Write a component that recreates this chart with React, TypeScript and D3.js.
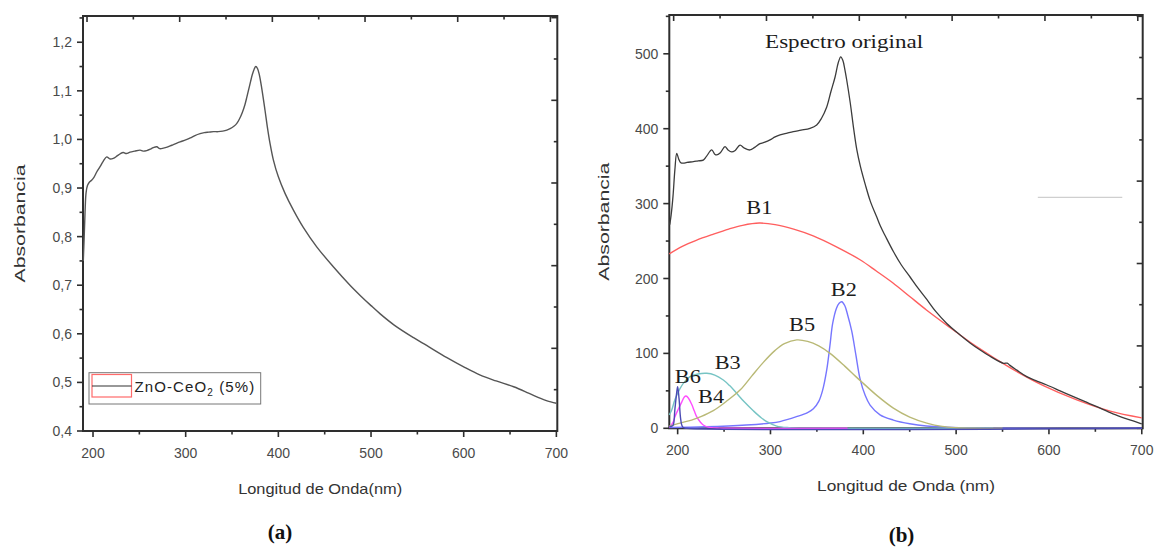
import React from "react";
import * as d3 from "d3";

type Pt = [number, number];

// ---------- Panel (a): ZnO-CeO2 (5%) absorbance spectrum ----------
const spectrumA: Pt[] = [
  [189.5, 0.75], [190.5, 0.8], [191.4, 0.85], [192.5, 0.89], [194, 0.905], [196, 0.912],
  [198.5, 0.916], [201, 0.922], [204, 0.933], [207.6, 0.944], [211, 0.955], [214.8, 0.964],
  [218, 0.96], [221.9, 0.961], [226, 0.966], [229, 0.97], [232.7, 0.973], [236, 0.971],
  [240, 0.974], [245, 0.976], [250.8, 0.978], [254, 0.976], [258, 0.977], [262, 0.98],
  [265, 0.983], [268.8, 0.985], [272, 0.981], [276, 0.982], [280, 0.984], [285, 0.988],
  [290, 0.992], [294, 0.995], [300, 0.999], [305, 1.003], [310, 1.008], [315.6, 1.012],
  [320, 1.014], [325, 1.015], [330, 1.016], [335, 1.016], [340, 1.017], [344.4, 1.019],
  [348, 1.022], [352, 1.027], [355.2, 1.033], [358, 1.042], [361, 1.055], [364, 1.072],
  [366, 1.087], [368, 1.103], [370, 1.119], [372, 1.134], [374, 1.145], [375.7, 1.15],
  [377.5, 1.146], [379.5, 1.133], [382, 1.106], [385.6, 1.06], [388.1, 1.026], [391, 0.992],
  [394.6, 0.958], [400, 0.923], [407.2, 0.889], [416.1, 0.855], [426.9, 0.819], [441.4, 0.779],
  [459.3, 0.738], [477.3, 0.7], [488.3, 0.679], [500, 0.658], [509.9, 0.641], [525, 0.618],
  [545.9, 0.592], [560, 0.576], [581.9, 0.551], [600, 0.532], [617.9, 0.515], [635, 0.503],
  [653.9, 0.491], [670, 0.478], [683, 0.467], [690, 0.462], [700, 0.457],
];

// ---------- Panel (b): original spectrum and fitted bands ----------
const originalB: Pt[] = [
  [191.5, 272], [193, 285], [195, 310], [197, 345], [199, 367], [201, 360], [203, 355],
  [206, 354], [210, 355], [216.9, 356], [222, 357], [227.6, 358], [231, 363], [236.7, 371.6],
  [240, 366], [242, 365], [246, 368], [251, 376], [254, 372], [258.2, 369], [262, 371],
  [267.2, 378], [272, 374], [278, 371.6], [283, 375], [288.7, 380], [294, 382], [299.5, 385],
  [305, 389], [310.3, 391.6], [318, 394], [324.6, 396], [333, 398], [342.6, 400.5],
  [349.8, 405], [355, 414], [360.6, 429], [365, 449], [369.6, 469], [373, 488], [375.7, 496],
  [378, 491], [380, 480], [382, 466], [386, 434], [389.6, 400], [393, 372], [396.8, 350],
  [402, 326], [407.6, 303], [414.5, 282], [418.4, 270], [424, 256], [432.4, 236],
  [441, 218], [450.4, 202], [459, 187], [468.4, 172], [478, 156], [489.9, 140],
  [504.3, 124.6], [515, 114], [525.9, 104.5], [538, 95], [551, 86.8], [555, 87], [558, 84],
  [565, 78], [576.1, 68.9], [587, 63], [597.7, 57.8], [612, 50], [626.3, 42.2], [639, 35.5],
  [651.6, 28.9], [664, 22], [676.7, 15.5], [688, 11], [698.2, 6.7], [700, 6],
];

const bandB1: Pt[] = [
  [191, 233], [205, 243], [220, 251], [238, 259], [255, 266], [270, 271], [288, 274],
  [305, 272], [325, 266], [346, 257], [370, 243], [396.5, 225], [414, 210], [432, 194],
  [450, 176], [468, 158], [494, 134], [522, 109], [558, 81], [594, 57], [630, 38],
  [666, 23], [700, 14],
];

const bandB2: Pt[] = [
  [191, 1], [230, 2], [274, 4.4], [300, 7], [310.3, 9], [328, 15.5], [340, 21], [346.2, 26],
  [352, 36], [356, 50], [360.6, 78], [364, 110], [367, 140], [371, 160], [374, 167],
  [376.8, 169], [380, 164], [383, 152], [387.5, 130], [392, 98], [396.5, 66], [402, 44],
  [407.3, 31], [418, 18], [432.4, 11], [450, 6], [468, 3], [490, 1.5], [520, 0.5], [560, 0],
  [700, 0],
];

const bandB3: Pt[] = [
  [191, 18], [193.6, 24.4], [197, 38], [202.5, 53], [208, 63], [213.3, 68.9], [222, 72.5],
  [231.3, 73.4], [240, 71], [249.2, 64.5], [256, 57], [263.6, 46.7], [272, 35], [281.5, 23.4],
  [290, 14], [296, 8.9], [306.7, 3], [320, 0.8], [340, 0], [540, 0],
];

const bandB4: Pt[] = [
  [191, 1], [195, 8], [197.1, 15.5], [200.5, 25], [204.4, 35], [207, 41.5], [209, 43.1],
  [211.5, 40.5], [215.1, 32], [218, 23], [220.5, 15.5], [224, 9], [227.6, 4.4], [233, 1.5],
  [245, 0.3], [260, 0], [383, 0],
];

const bandB5: Pt[] = [
  [191, 3], [202.5, 7], [215, 11], [225, 15.5], [238.4, 23.5], [252, 35.5], [267.2, 51],
  [280, 70], [292.3, 88], [305, 104], [315, 113], [328.3, 118], [340, 116], [352, 110],
  [364.2, 100], [380, 83], [392, 69], [400, 60], [414.5, 44], [432.4, 27], [450, 15],
  [468.4, 7], [485, 2.5], [500, 0.8], [520, 0], [550, 0],
];

const bandB6: Pt[] = [
  [191, 2], [194, 3], [195.3, 4.4], [197, 25], [199, 48], [200, 55.5], [201.5, 40],
  [203, 15], [204.4, 4.4], [206, 1], [210, 0], [700, 0],
];

const bandSeries: Pt[][] = [bandB1, bandB2, bandB3, bandB4, bandB5, bandB6];
const bandLabels = ["B1", "B2", "B3", "B4", "B5", "B6"];
const bandLabelPos: Pt[] = [[288, 295], [379, 185], [254, 87], [236, 42], [334, 138], [211, 69]];
const originalLabel = "Espectro original";
const originalLabelPos: Pt = [379.3, 516];
const stubLine: Pt[] = [[588, 308.4], [679, 308.4]];

// ---------- Tick labels ----------
const xTickValues = [200, 300, 400, 500, 600, 700];
const yTickValuesA = [0.4, 0.5, 0.6, 0.7, 0.8, 0.9, 1.0, 1.1, 1.2];
const yTickValuesB = [0, 100, 200, 300, 400, 500];
const legendText = ["ZnO-CeO", "2", " (5%)"];

// ---------- Styles ----------
const bandColors = ["#ff5e5e", "#7676ff", "#76c4c4", "#ff4cff", "#b9b976", "#4b4bb4"];
const AXIS = "#2e2e2e";
const TICKTXT = "#4a4a4a";
const SANS = "'Liberation Sans', Arial, sans-serif";
const SERIF = "'Liberation Serif', 'Times New Roman', serif";

type Scale = d3.ScaleLinear<number, number>;

function Axes(props: {
  x: Scale; y: Scale; r: Scale; yMajor: number[]; yMinorStep: number; fmt: (v: number) => string;
  topShift: number; title: string; titleLen: number; ylabelX: number;
}) {
  const { x, y, r, yMajor, yMinorStep, fmt, topShift, title, titleLen, ylabelX } = props;
  const [x0, x1] = x.range();
  const [y0, y1] = y.range();
  const xd = x.domain();
  const yd = y.domain();
  const xMinor = d3.range(200, 701, 50).filter((v) => v % 100 !== 0 && v >= xd[0] && v <= xd[1]);
  const yMinor = d3.range(yd[0] + yMinorStep, yd[1] + 1e-9, yMinorStep * 2);
  const xTop = d3.range(200, 701, 50);
  const rTicks = d3.range(0, r.domain()[1] + 1e-9, 0.5);
  return (
    <g>
      <rect x={x0} y={y1} width={x1 - x0} height={y0 - y1} fill="none" stroke={AXIS} strokeWidth={2} />
      {xTickValues.map((v) => (
        <g key={"bx" + v}>
          <line x1={x(v)} x2={x(v)} y1={y0} y2={y0 + 6} stroke={AXIS} strokeWidth={1.6} />
          <text x={x(v)} y={y0 + 27} textAnchor="middle" fontSize={14} fontFamily={SANS} fill={TICKTXT}>{v}</text>
        </g>
      ))}
      {xMinor.map((v) => (
        <line key={"mx" + v} x1={x(v)} x2={x(v)} y1={y0} y2={y0 + 3.5} stroke={AXIS} strokeWidth={1.6} />
      ))}
      {xTop.map((v) => (
        <line key={"tx" + v} x1={x(v) + topShift} x2={x(v) + topShift} y1={y1} y2={y1 + (v % 100 === 0 ? 6 : 3.5)} stroke={AXIS} strokeWidth={1.6} />
      ))}
      {yMajor.map((v) => (
        <g key={"ly" + v}>
          <line x1={x0 - 6} x2={x0} y1={y(v)} y2={y(v)} stroke={AXIS} strokeWidth={1.6} />
          <text x={x0 - 11} y={y(v)} dy="0.36em" textAnchor="end" fontSize={14} fontFamily={SANS} fill={TICKTXT}>{fmt(v)}</text>
        </g>
      ))}
      {yMinor.map((v) => (
        <line key={"my" + v} x1={x0 - 3.5} x2={x0} y1={y(v)} y2={y(v)} stroke={AXIS} strokeWidth={1.6} />
      ))}
      {rTicks.map((v) => (
        <line key={"ry" + v} x1={x1 - (Math.abs(v - Math.round(v)) < 1e-6 ? 6 : 3.5)} x2={x1} y1={r(v)} y2={r(v)} stroke={AXIS} strokeWidth={1.6} />
      ))}
      <text x={(x0 + x1) / 2} y={y0 + 63} textAnchor="middle" fontSize={15} fontFamily={SANS} fill="#333"
        textLength={titleLen} lengthAdjust="spacingAndGlyphs">{title}</text>
      <text transform={`translate(${ylabelX},${(y0 + y1) / 2}) rotate(-90)`} dy="0.36em" textAnchor="middle" fontSize={15}
        fontFamily={SANS} fill="#333" textLength={118} lengthAdjust="spacingAndGlyphs">Absorbancia</text>
    </g>
  );
}

export default function App() {
  const xA = d3.scaleLinear().domain([189.2, 701]).range([83, 557.3]);
  const yA = d3.scaleLinear().domain([0.4, 1.254]).range([431, 16]);
  const rA = d3.scaleLinear().domain([0, 5.02]).range([431, 16]);

  const xB = d3.scaleLinear().domain([191, 701]).range([669.3, 1142.7]);
  const yB = d3.scaleLinear().domain([0, 551.8]).range([428.3, 15]);
  const rB = d3.scaleLinear().domain([0, 5.016]).range([428.3, 15]);

  const curve = d3.curveCatmullRom.alpha(0.5);
  const lineA = d3.line<Pt>().x((d) => xA(d[0])).y((d) => yA(d[1])).curve(curve);
  const lineB = d3.line<Pt>().x((d) => xB(d[0])).y((d) => yB(d[1])).curve(curve);

  const fmtA = (v: number) => d3.format(".1f")(v).replace(".", ",");
  const fmtB = (v: number) => String(v);

  return (
    <svg width={1156} height={549} style={{ position: "absolute", left: 0, top: 0, background: "#fff" }}>
      <rect x={0} y={0} width={1156} height={549} fill="#fff" />
      {/* Panel (a) */}
      <Axes x={xA} y={yA} r={rA} yMajor={yTickValuesA} yMinorStep={0.05} fmt={fmtA} topShift={-6}
        title="Longitud de Onda(nm)" titleLen={164} ylabelX={19.5} />
      <path d={lineA(spectrumA) || ""} fill="none" stroke="#555" strokeWidth={1.4} />
      <g>
        <rect x={89} y={372.7} width={171.7} height={31.3} fill="#fff" stroke="#777" strokeWidth={1} />
        <rect x={92} y={374.5} width={39.5} height={22.5} fill="none" stroke="#ff6a6a" strokeWidth={1.2} />
        <line x1={92} x2={131.5} y1={386} y2={386} stroke="#333" strokeWidth={1.2} />
        <text x={134.5} y={391.5} fontSize={15} fontFamily={SANS} fill="#222" letterSpacing={1.1}>
          <tspan>{legendText[0]}</tspan>
          <tspan dy={4} fontSize={10}>{legendText[1]}</tspan>
          <tspan dy={-4}>{legendText[2]}</tspan>
        </text>
      </g>
      <text x={280} y={539} textAnchor="middle" fontSize={21} fontWeight="bold" fontFamily={SERIF} fill="#111">(a)</text>

      {/* Panel (b) */}
      <Axes x={xB} y={yB} r={rB} yMajor={yTickValuesB} yMinorStep={50} fmt={fmtB} topShift={-4}
        title="Longitud de Onda (nm)" titleLen={178} ylabelX={604} />
      <path d={lineB(stubLine) || ""} fill="none" stroke="#cfcfcf" strokeWidth={1.2} />
      {bandSeries.map((s, i) => (
        <path key={"band" + i} d={lineB(s) || ""} fill="none" stroke={bandColors[i]} strokeWidth={1.4} />
      ))}
      <path d={lineB(originalB) || ""} fill="none" stroke="#3c3c3c" strokeWidth={1.3} />
      <text x={xB(originalLabelPos[0])} y={yB(originalLabelPos[1])} dy="0.35em" textAnchor="middle" fontSize={19}
        fontFamily={SERIF} fill="#1c1c1c" textLength={158} lengthAdjust="spacingAndGlyphs">{originalLabel}</text>
      {bandLabels.map((b, i) => (
        <text key={b} x={xB(bandLabelPos[i][0])} y={yB(bandLabelPos[i][1])} dy="0.35em" textAnchor="middle"
          fontSize={18} fontFamily={SERIF} fill="#1c1c1c" textLength={26} lengthAdjust="spacingAndGlyphs">{b}</text>
      ))}
      <text x={901.5} y={542} textAnchor="middle" fontSize={21} fontWeight="bold" fontFamily={SERIF} fill="#111">(b)</text>
    </svg>
  );
}
